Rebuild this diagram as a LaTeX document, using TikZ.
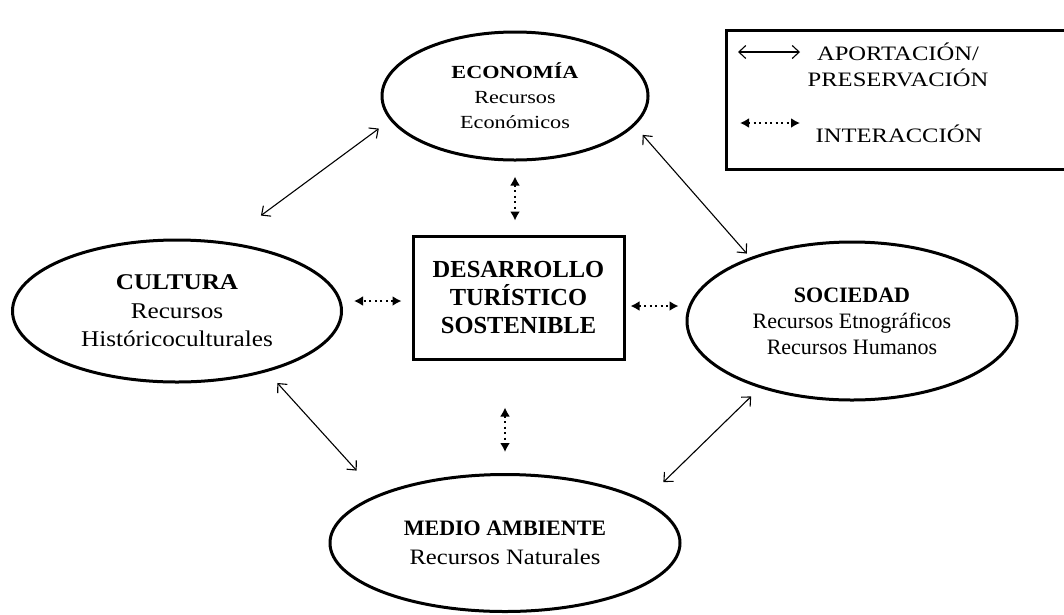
\documentclass[tikz,border=0pt]{standalone}
\usepackage{fontspec}
\setmainfont{Liberation Serif}
\newfontfamily\wideA[FakeStretch=1.2]{Liberation Serif}
\newfontfamily\wideB[FakeStretch=1.12]{Liberation Serif}
\usetikzlibrary{arrows.meta,shapes.geometric}

\tikzset{
	campo/.style={ellipse,draw=black,line width=3pt,inner sep=0pt,align=center},
	aport/.style={{Straight Barb[length=7pt,width=13pt]}-{Straight Barb[length=7pt,width=13pt]},line width=1.1pt},
	inter/.style={{Latex[length=9pt,width=10pt]}-{Latex[length=9pt,width=10pt]},line width=2pt,dash pattern=on 2pt off 3.5pt},
}

\begin{document}
\begin{tikzpicture}[x=1pt,y=-1pt]
		\useasboundingbox (0,0) rectangle (1064,614);
		
		\node[campo,minimum width=266pt,minimum height=128pt,font=\wideA\fontsize{18.5}{25}\selectfont] (eco) at (515,96) {\textbf{ECONOMÍA}\\Recursos\\Económicos};
		\node[campo,minimum width=329pt,minimum height=142pt,font=\wideB\fontsize{22.5}{28.5}\selectfont] (cul) at (177,311) {\textbf{CULTURA}\\Recursos\\Históricoculturales};
		\node[campo,minimum width=330pt,minimum height=158pt,font=\fontsize{22}{26}\selectfont] (soc) at (852,321) {\textbf{SOCIEDAD}\\Recursos Etnográficos\\Recursos Humanos};
		\node[campo,minimum width=350pt,minimum height=137pt,font=\fontsize{22}{29}\selectfont] (med) at (505,543) {\textbf{MEDIO AMBIENTE}\\{\wideB Recursos Naturales}};
		
		\node[draw=black,line width=3pt,minimum width=211pt,minimum height=123pt,align=center,font=\fontsize{24.5}{28}\selectfont\bfseries] (des) at (518.5,297.5) {DESARROLLO\\TURÍSTICO\\SOSTENIBLE};
		
		\draw[aport,shorten <=14pt,shorten >=44pt] (eco.191) -- (cul.55);
		\draw[aport,shorten <=12pt,shorten >=5pt] (eco.-14) -- (soc.148);
		\draw[aport,shorten <=15pt,shorten >=32pt] (cul.-34) -- (med.159);
		\draw[aport,shorten <=12pt,shorten >=26pt] (soc.216) -- (med.17);
		
		\draw[inter,shorten <=15pt,shorten >=14pt] (eco.south) -- (eco.south |- des.north);
		\draw[inter,shorten <=10pt,shorten >=11pt] ([yshift=-3.5pt]des.west) -- ([yshift=-3.5pt]des.west -| cul.east);
		\draw[inter,shorten <=5pt,shorten >=7pt] ([yshift=-8.5pt]des.east) -- ([yshift=-8.5pt]des.east -| soc.west);
		\draw[inter,shorten <=47pt,shorten >=21pt] (med.north |- des.south) -- (med.north);
		
		\node[draw=black,line width=3.2pt,minimum width=360pt,minimum height=139pt,anchor=north west] (ley) at (725,29) {};
		\coordinate (ka) at (738,52);
		\draw[aport] (ka) -- ++(62,0);
		\node[font=\wideA\fontsize{20.5}{26}\selectfont,align=center] (apor) at (898,65) {APORTACIÓN/\\PRESERVACIÓN};
		\coordinate (ki) at (740,123);
		\draw[inter] (ki) -- ++(60,0);
		\node[font=\wideA\fontsize{20.5}{26}\selectfont,anchor=base] (intr) at (899,142) {INTERACCIÓN};
	\end{tikzpicture}
\end{document}
